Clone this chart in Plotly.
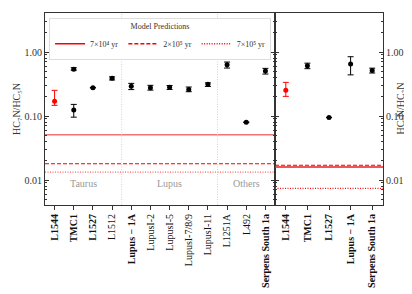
import plotly.graph_objects as go

# ---- data ----
left_cats = ["L1544", "TMC1", "L1527", "L1512", "Lupus − 1A", "LupusI-2", "LupusI-5",
             "LupusI-7/8/9", "LupusI-11", "L1251A", "L492", "Serpens South 1a"]
left_bold = [True, True, True, False, True, False, False, False, False, False, False, True]

# HC7N/HC5N (black points)
l_idx = [1, 1, 2, 3, 4, 5, 6, 7, 8, 9, 10, 11]
l_val = [0.54, 0.124, 0.277, 0.388, 0.291, 0.277, 0.281, 0.26, 0.313, 0.634, 0.08, 0.505]
l_hi = [0.57, 0.152, 0.277, 0.41, 0.324, 0.302, 0.30, 0.284, 0.33, 0.698, 0.08, 0.556]
l_lo = [0.52, 0.096, 0.277, 0.366, 0.259, 0.254, 0.26, 0.24, 0.29, 0.562, 0.08, 0.453]
# red point (L1544)
l_red_idx = [0]
l_red_val = [0.17]
l_red_hi = [0.252]
l_red_lo = [0.147]

right_cats = ["L1544", "TMC1", "L1527", "Lupus − 1A", "Serpens South 1a"]
r_idx = [1, 2, 3, 4]
r_val = [0.61, 0.095, 0.65, 0.517]
r_hi = [0.67, 0.095, 0.845, 0.56]
r_lo = [0.55, 0.095, 0.44, 0.47]
r_red_idx = [0]
r_red_val = [0.254]
r_red_hi = [0.336]
r_red_lo = [0.203]

model_labels = ["7×10⁴ yr", "2×10⁵ yr", "7×10⁵ yr"]
model_left = [0.051, 0.018, 0.0133]
model_right = [0.016, 0.017, 0.0074]

groups = ["Taurus", "Lupus", "Others"]
group_pos = [1.5, 6.0, 10.0]
group_sep = [3.5, 8.5]

FONT = "Liberation Serif"

fig = go.Figure()

dashes = ["solid", "4px,2px", "1px,1.5px"]
left_cols = ["rgba(240,90,90,0.85)", "rgb(240,0,0)", "rgba(255,70,70,0.85)"]
right_cols = ["rgb(235,30,30)", "rgb(230,0,0)", "rgb(240,20,20)"]
for k in range(3):
    fig.add_trace(go.Scatter(x=[-0.5, 11.5], y=[model_left[k]] * 2, mode="lines",
                             line=dict(color=left_cols[k], dash=dashes[k], width=1.5 if k == 0 else 1.1),
                             name=model_labels[k], showlegend=False, xaxis="x", yaxis="y"))
    fig.add_trace(go.Scatter(x=[-0.5, 4.5], y=[model_right[k]] * 2, mode="lines",
                             line=dict(color=right_cols[k], dash=dashes[k], width=1.3 if k == 0 else 1.1),
                             name=model_labels[k], showlegend=False, xaxis="x2", yaxis="y2"))
    # legend entries
    fig.add_trace(go.Scatter(x=[None], y=[None], mode="lines",
                             line=dict(color="red", dash=dashes[k], width=1.5),
                             name=model_labels[k], showlegend=True, xaxis="x", yaxis="y"))


def pts(idx, val, hi, lo, color, xa, ya):
    fig.add_trace(go.Scatter(
        x=idx, y=val, mode="markers", xaxis=xa, yaxis=ya, showlegend=False,
        marker=dict(color=color, size=5),
        error_y=dict(type="data", symmetric=False,
                     array=[h - v for h, v in zip(hi, val)],
                     arrayminus=[v - l for v, l in zip(val, lo)],
                     color=color, thickness=1, width=3)))


pts(l_idx, l_val, l_hi, l_lo, "black", "x", "y")
pts(l_red_idx, l_red_val, l_red_hi, l_red_lo, "red", "x", "y")
pts(r_idx, r_val, r_hi, r_lo, "black", "x2", "y2")
pts(r_red_idx, r_red_val, r_red_hi, r_red_lo, "red", "x2", "y2")

for s in group_sep:
    fig.add_shape(type="line", xref="x", yref="y domain", x0=s, x1=s, y0=0, y1=1,
                  line=dict(color="#c8c8c8", width=0.8, dash="1px,1.5px"))
for g, p in zip(groups, group_pos):
    fig.add_annotation(x=p, y=0.073, xref="x", yref="y domain", text=g, showarrow=False,
                       font=dict(family=FONT, size=10, color="#999999"))

# right-hand axis title
fig.add_annotation(x=1.049, xref="paper", xanchor="center", y=0.5, yref="paper",
                   yanchor="middle", text="HC₉N/HC₇N", textangle=-90,
                   showarrow=False, font=dict(family=FONT, size=10, color="#333333"))

major = [0.01, 0.1, 1.0]
minor = [m * 10 ** e for e in (-3, -2, -1, 0) for m in range(2, 10)]
minor = [v for v in minor if 10 ** -2.39 < v < 10 ** 0.61]

ax_common = dict(showline=True, linecolor="#333333", linewidth=1, showgrid=False,
                 zeroline=False)
yax = dict(type="log", range=[-2.39, 0.61], tickvals=major, ticktext=["0.01", "0.10", "1.00"],
           ticks="inside", ticklen=4, tickcolor="#333333", mirror="ticks",
           minor=dict(tickvals=minor, ticks="inside", ticklen=2, tickcolor="#333333"),
           tickfont=dict(family=FONT, size=10, color="#333333"), **ax_common)

def tt(cats, bold):
    return [f"<b>{c}</b>" if b else c for c, b in zip(cats, bold)]

fig.update_layout(
    width=412, height=294,
    margin=dict(l=37, r=37, t=5, b=97),
    plot_bgcolor="white", paper_bgcolor="white",
    font=dict(family=FONT, color="#333333"),
    xaxis=dict(domain=[0, 0.6805], range=[-0.5, 11.5], tickvals=list(range(len(left_cats))),
               ticktext=tt(left_cats, left_bold), tickangle=-90, ticks="outside", ticklen=4,
               tickcolor="#333333", tickfont=dict(family=FONT, size=10, color="#111111"),
               anchor="y", mirror=True, **ax_common),
    xaxis2=dict(domain=[0.6805, 1], range=[-0.5, 4.5], tickvals=list(range(len(right_cats))),
                ticktext=tt(right_cats, [True] * 5), tickangle=-90, ticks="outside", ticklen=4,
                tickcolor="#333333", tickfont=dict(family=FONT, size=10, color="#111111"),
                anchor="y2", mirror=True, **ax_common),
    yaxis=dict(anchor="x", title=dict(text="HC₇N/HC₅N",
                                      font=dict(family=FONT, size=10), standoff=2),
               **yax),
    yaxis2=dict(anchor="x2", side="right", **yax),
    legend=dict(orientation="h", x=0.012, y=0.975, xanchor="left", yanchor="top",
                bgcolor="white", bordercolor="#dddddd", borderwidth=1,
                font=dict(family=FONT, size=8, color="#333333"),
                title=dict(text="Model Predictions", side="top center",
                           font=dict(family=FONT, size=8, color="#333333")),
                itemwidth=30, tracegroupgap=0),
)

fig.write_html("out.html")
